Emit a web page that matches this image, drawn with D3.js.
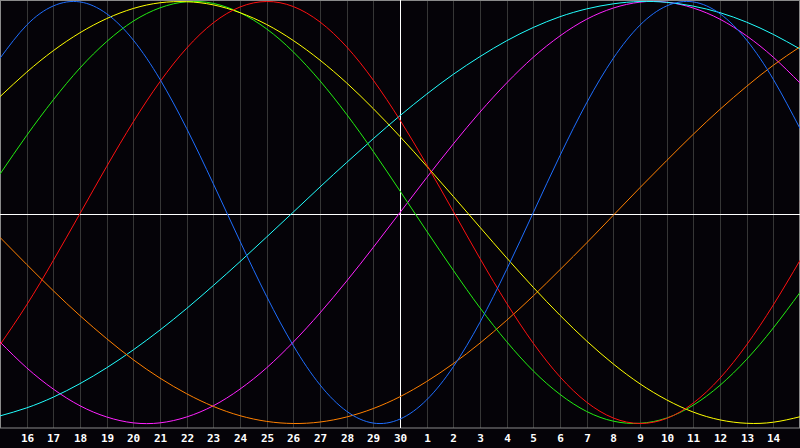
<!DOCTYPE html>
<html>
<head>
<meta charset="utf-8">
<script src="https://cdn.jsdelivr.net/npm/d3@7"></script>
<style>
html,body{margin:0;padding:0;background:#050308;}
svg{display:block;}
</style>
</head>
<body>
<svg id="chart" width="800" height="448"></svg>
<script>
// Day labels (gridlines), from day 16 through 14 of next month
const dayLabels = ["16","17","18","19","20","21","22","23","24","25","26","27","28","29","30",
  "1","2","3","4","5","6","7","8","9","10","11","12","13","14"];
const todayLabel = "30";

// Series values sampled once per day, from day 15 (left edge) to day 15 of next month (right edge)
const physical = [0.731,0.888,0.979,0.998,0.942,0.817,0.631,0.398,0.136,-0.136,-0.398,-0.631,-0.817,-0.942,-0.998,-0.979,-0.888,-0.731,-0.520,-0.270,0.000,0.270,0.520,0.731,0.888,0.979,0.998,0.942,0.817,0.631,0.398];
const emotional = [-0.627,-0.438,-0.227,-0.005,0.218,0.430,0.620,0.779,0.899,0.974,1.000,0.976,0.903,0.785,0.627,0.438,0.227,0.005,-0.218,-0.430,-0.620,-0.779,-0.899,-0.974,-1.000,-0.976,-0.903,-0.785,-0.627,-0.438,-0.227];
const intellectual = [0.182,0.365,0.534,0.685,0.810,0.907,0.970,0.999,0.991,0.947,0.870,0.761,0.624,0.465,0.289,0.102,-0.088,-0.274,-0.452,-0.612,-0.751,-0.862,-0.943,-0.989,-0.999,-0.974,-0.913,-0.819,-0.696,-0.547,-0.379];
const intuitive = [-0.614,-0.736,-0.837,-0.916,-0.969,-0.997,-0.997,-0.969,-0.916,-0.837,-0.736,-0.614,-0.476,-0.325,-0.165,0.000,0.165,0.325,0.476,0.614,0.736,0.837,0.916,0.969,0.997,0.997,0.969,0.916,0.837,0.736,0.614];
const aesthetic = [0.549,0.665,0.767,0.852,0.919,0.967,0.994,0.999,0.984,0.947,0.891,0.815,0.722,0.614,0.492,0.360,0.220,0.076,-0.070,-0.215,-0.355,-0.487,-0.609,-0.718,-0.812,-0.888,-0.946,-0.983,-0.999,-0.994,-0.968];
const awareness = [-0.118,-0.246,-0.371,-0.489,-0.598,-0.698,-0.785,-0.859,-0.919,-0.963,-0.990,-1.000,-0.993,-0.969,-0.929,-0.873,-0.801,-0.716,-0.619,-0.511,-0.395,-0.271,-0.144,-0.013,0.118,0.246,0.371,0.489,0.598,0.698,0.785];
const spiritual = [-0.964,-0.926,-0.875,-0.811,-0.736,-0.651,-0.557,-0.455,-0.346,-0.233,-0.116,0.002,0.121,0.237,0.350,0.459,0.561,0.655,0.739,0.814,0.877,0.928,0.965,0.989,1.000,0.996,0.978,0.947,0.902,0.844,0.775];

const seriesNames = ["intuitive","spiritual","awareness","intellectual","aesthetic","emotional","physical"];
const seriesValues = [intuitive, spiritual, awareness, intellectual, aesthetic, emotional, physical];
const seriesColors = ["#ff22ff","#22ffff","#ff8000","#22ee11","#ffff00","#ff1010","#1e6eff"];

const W = 800, H = 448, plotH = 428;
const svg = d3.select("#chart");

svg.append("rect").attr("x",0).attr("y",0).attr("width",W).attr("height",H).attr("fill","#050308");

const x = d3.scaleLinear().domain([0, 30]).range([0, W]);
const y = d3.scaleLinear().domain([-1, 1]).range([423.5, 1.5]);
const crisp = v => Math.round(v) + 0.5;

// Gridlines + labels via axis
const tickIdx = dayLabels.map((d, i) => i + 1);
const axis = d3.axisBottom(x)
  .tickValues(tickIdx)
  .tickFormat((d, i) => dayLabels[i])
  .tickSizeInner(-plotH)
  .tickSizeOuter(0)
  .tickPadding(6.5);

const gAxis = svg.append("g").attr("transform", `translate(0,${plotH})`).call(axis);
gAxis.select(".domain").remove();
gAxis.selectAll(".tick").attr("transform", d => `translate(${crisp(x(d))},0)`);
gAxis.selectAll(".tick line").attr("stroke", "#363636").attr("stroke-width", 1);
gAxis.selectAll(".tick text")
  .attr("fill", "#ffffff")
  .attr("font-family", "'DejaVu Sans Mono', monospace")
  .attr("font-weight", "bold")
  .attr("font-size", "11px");

// Border
svg.append("rect").attr("x",0.5).attr("y",0.5).attr("width",W-1).attr("height",plotH-0.5)
  .attr("fill","none").attr("stroke","#8a8a8a").attr("stroke-width",1);

// Today and zero lines
const todayIdx = dayLabels.indexOf(todayLabel) + 1;
svg.append("line").attr("x1", crisp(x(todayIdx))).attr("x2", crisp(x(todayIdx)))
  .attr("y1", 0).attr("y2", plotH).attr("stroke", "#ffffff").attr("stroke-width", 1);
svg.append("line").attr("x1", 0).attr("x2", W)
  .attr("y1", crisp(y(0)) + 1).attr("y2", crisp(y(0)) + 1).attr("stroke", "#ffffff").attr("stroke-width", 1);

// Curves
const line = d3.line().x((d, i) => x(i)).y(d => y(d)).curve(d3.curveNatural);
const gLines = svg.append("g");
seriesValues.forEach((vals, k) => {
  gLines.append("path")
    .attr("d", line(vals))
    .attr("fill", "none")
    .attr("stroke", seriesColors[k])
    .attr("stroke-width", 1)
    .attr("data-name", seriesNames[k]);
});
</script>
</body>
</html>
